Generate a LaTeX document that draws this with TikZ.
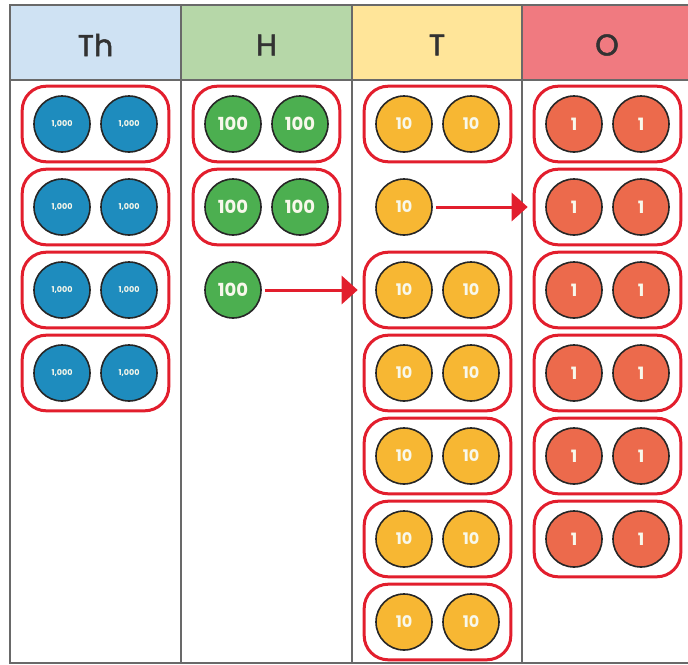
\documentclass[tikz,border=0pt]{standalone}
\usepackage{fontspec}
\setmainfont{Poppins}
\newfontfamily\hdfont{Poppins}[FakeBold=1.6]
\usetikzlibrary{arrows.meta,fit}
\definecolor{hdth}{RGB}{207,226,243}
\definecolor{hdh}{RGB}{182,215,168}
\definecolor{hdt}{RGB}{255,229,153}
\definecolor{hdo}{RGB}{240,122,128}
\definecolor{cth}{RGB}{30,140,190}
\definecolor{ch}{RGB}{76,175,80}
\definecolor{ct}{RGB}{247,183,51}
\definecolor{co}{RGB}{236,106,76}
\definecolor{grpred}{RGB}{226,30,45}
\definecolor{gridgray}{RGB}{105,105,105}
\definecolor{hdtext}{RGB}{50,50,50}
\definecolor{coinlabel}{RGB}{248,248,235}
\begin{document}
\begin{tikzpicture}[x=1pt,y=-1pt,
  coin/.style={circle,minimum size=56pt,inner sep=0pt,draw=black!85,line width=1.6pt,
    text=coinlabel,font=\bfseries},
  thc/.style={coin,fill=cth,font=\bfseries\fontsize{8}{9}\selectfont},
  hc/.style={coin,fill=ch,font=\bfseries\fontsize{18}{20}\selectfont},
  tc/.style={coin,fill=ct,font=\bfseries\fontsize{16}{18}\selectfont},
  oc/.style={coin,fill=co,font=\bfseries\fontsize{17}{19}\selectfont},
  grp/.style={draw=grpred,line width=3pt,rounded corners=24pt,inner xsep=11pt,inner ysep=9pt},
  hdr/.style={font=\hdfont\fontsize{30}{32}\selectfont,text=hdtext},
  arr/.style={draw=grpred,line width=3pt,-{Triangle[length=16pt,width=28pt]}},
  gridline/.style={draw=gridgray,line width=2.2pt}]
\useasboundingbox (0,0) rectangle (688,664);
\clip (0,0) rectangle (688,664);
% header backgrounds
\fill[hdth] (10,5) rectangle (181,80);
\fill[hdh] (181,5) rectangle (352,80);
\fill[hdt] (352,5) rectangle (522,80);
\fill[hdo] (522,5) rectangle (700,80);
% grid
\draw[gridline] (10,5) rectangle (700,663);
\draw[gridline] (10,80) -- (700,80);
\draw[gridline] (181,5) -- (181,663);
\draw[gridline] (352,5) -- (352,663);
\draw[gridline] (522,5) -- (522,663);
% headers
\node[hdr] (hth) at (95.5,45) {Th};
\node[hdr] (hh) at (266.5,45) {H};
\node[hdr] (ht) at (437,45) {T};
\node[hdr] (ho) at (607,45) {O};
% thousands
\foreach \r in {1,...,4} {
  \pgfmathsetmacro\yy{41+83*\r}
  \node[thc] (th\r-a) at (62,\yy) {1,000};
  \node[thc] (th\r-b) at (129,\yy) {1,000};
  \node[grp,fit=(th\r-a)(th\r-b)] (thg\r) {};
}
% hundreds
\foreach \r in {1,2} {
  \pgfmathsetmacro\yy{41+83*\r}
  \node[hc] (h\r-a) at (233,\yy) {100};
  \node[hc] (h\r-b) at (300,\yy) {100};
  \node[grp,fit=(h\r-a)(h\r-b)] (hg\r) {};
}
\node[hc] (h3) at (233,290) {100};
% tens
\foreach \r in {1,3,4,5,6,7} {
  \pgfmathsetmacro\yy{41+83*\r}
  \node[tc] (t\r-a) at (404,\yy) {10};
  \node[tc] (t\r-b) at (471,\yy) {10};
  \node[grp,fit=(t\r-a)(t\r-b)] (tg\r) {};
}
\node[tc] (t2) at (404,207) {10};
% ones
\foreach \r in {1,...,6} {
  \pgfmathsetmacro\yy{41+83*\r}
  \node[oc] (o\r-a) at (574,\yy) {1};
  \node[oc] (o\r-b) at (641,\yy) {1};
  \node[grp,fit=(o\r-a)(o\r-b)] (og\r) {};
}
% arrows
\draw[arr,shorten <=3pt,shorten >=5pt] (h3.east) -- (tg3.west);
\draw[arr,shorten <=3pt,shorten >=5pt] (t2.east) -- (og2.west);
\end{tikzpicture}
\end{document}
